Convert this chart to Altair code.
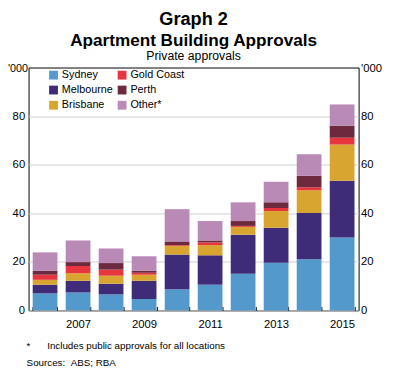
import altair as alt
import pandas as pd

years = [str(y) for y in range(2006, 2016)]
series = ["Sydney", "Melbourne", "Brisbane", "Gold Coast", "Perth", "Other*"]
sydney = [7.0, 7.4, 6.6, 4.7, 8.7, 10.6, 15.1, 19.6, 21.1, 30.0]
melbourne = [3.6, 4.8, 4.4, 7.5, 14.3, 12.1, 16.1, 14.4, 19.0, 23.4]
brisbane = [2.0, 3.1, 3.3, 2.5, 3.6, 4.2, 3.2, 6.9, 9.4, 14.9]
gold_coast = [2.1, 3.0, 2.5, 0.8, 0.3, 1.1, 0.4, 1.3, 1.2, 2.8]
perth = [1.6, 1.6, 2.7, 0.8, 1.5, 0.8, 2.0, 2.3, 4.7, 4.9]
other = [7.6, 8.9, 6.0, 6.0, 13.3, 8.0, 7.7, 8.5, 8.9, 8.8]
values = [sydney, melbourne, brisbane, gold_coast, perth, other]

colors = {"Sydney": "#5399cb", "Gold Coast": "#e8363f", "Melbourne": "#3e2c78",
          "Perth": "#6d2a3e", "Brisbane": "#d8a530", "Other*": "#b98ab5"}
y_ticks = [0, 20, 40, 60, 80]

rows = []
for k, (name, vals) in enumerate(zip(series, values)):
    for yr, v in zip(years, vals):
        rows.append({"year": yr, "city": name, "value": v, "k": k})
df = pd.DataFrame(rows)

FONT = "Liberation Sans"

x_enc = alt.X("year:O", title=None,
              scale=alt.Scale(paddingInner=0.25, paddingOuter=0.125),
              axis=alt.Axis(labelExpr="toNumber(datum.value) % 2 == 1 ? datum.label : ''",
                            labelAngle=0, labelFontSize=11.5, labelColor="black",
                            tickBand="extent", tickSize=4, tickColor="black",
                            offset=-4, domain=False, labelPadding=8, grid=False))

base = alt.Chart(df)

bars = base.mark_bar().encode(
    x=x_enc,
    y=alt.Y("sum(value):Q", scale=alt.Scale(domain=[0, 100], nice=False),
            axis=alt.Axis(values=y_ticks, orient="left", title="'000", titleAngle=0,
                          titleAlign="right", titleBaseline="middle", titleX=-1, titleY=1,
                          titleFontWeight="normal", titleFontSize=11, titleColor="black",
                          labelFontSize=11.5, labelColor="black", ticks=False, domain=False,
                          labelPadding=4, grid=True, gridColor="#cfcfcf")),
    color=alt.Color("city:N", scale=alt.Scale(domain=series,
                                               range=[colors[c] for c in series]),
                    legend=alt.Legend(orient="none", legendX=20, legendY=2, columns=2,
                                      symbolType="square", symbolSize=81, labelFontSize=11,
                                      rowPadding=3.5, columnPadding=4, labelOffset=3, title=None,
                                      symbolStrokeWidth=0, padding=0, labelColor="black")),
    order=alt.Order("k:Q", sort="ascending"),
)

right = base.mark_bar(opacity=0).encode(
    x=x_enc,
    y=alt.Y("sum(value):Q", scale=alt.Scale(domain=[0, 100], nice=False),
            axis=alt.Axis(values=y_ticks, orient="right", title="'000", titleAngle=0,
                          titleAlign="left", titleBaseline="middle", titleX=2, titleY=1,
                          titleFontWeight="normal", titleFontSize=11.5, titleColor="black",
                          labelFontSize=11.5, labelColor="black", ticks=False, domain=False,
                          labelPadding=2, grid=False)),
)

def txt(s, x, y, size, bold=False, align="center"):
    return alt.Chart(pd.DataFrame({"t": [s]})).mark_text(
        fontSize=size, fontWeight="bold" if bold else "normal", align=align,
        baseline="alphabetic", color="black", font=FONT
    ).encode(x=alt.value(x), y=alt.value(y), text="t:N")

title1 = "Graph 2"
title2 = "Apartment Building Approvals"
title3 = "Private approvals"
note_star = "*"
note_text = "Includes public approvals for all locations"
sources = "Sources:\u00a0\u00a0ABS; RBA"

texts = [
    txt(title1, 168.5, -43, 18.5, True),
    txt(title2, 168.5, -22.5, 17.5, True),
    txt(title3, 168.5, -7.5, 12.5),
    txt(note_star, -2, 287, 10, align="left"),
    txt(note_text, 19, 287, 10, align="left"),
    txt(sources, -2, 305, 10, align="left"),
]

chart = alt.layer(bars, right, *texts).resolve_scale(y="independent").properties(
    width=337, height=248,
    autosize=alt.AutoSizeParams(type="none"),
    padding={"left": 21, "top": 57, "right": 30, "bottom": 55},
).configure(font=FONT).configure_view(stroke="black", strokeWidth=1)

chart.save("out.html", embed_options={"renderer": "svg", "actions": False})
